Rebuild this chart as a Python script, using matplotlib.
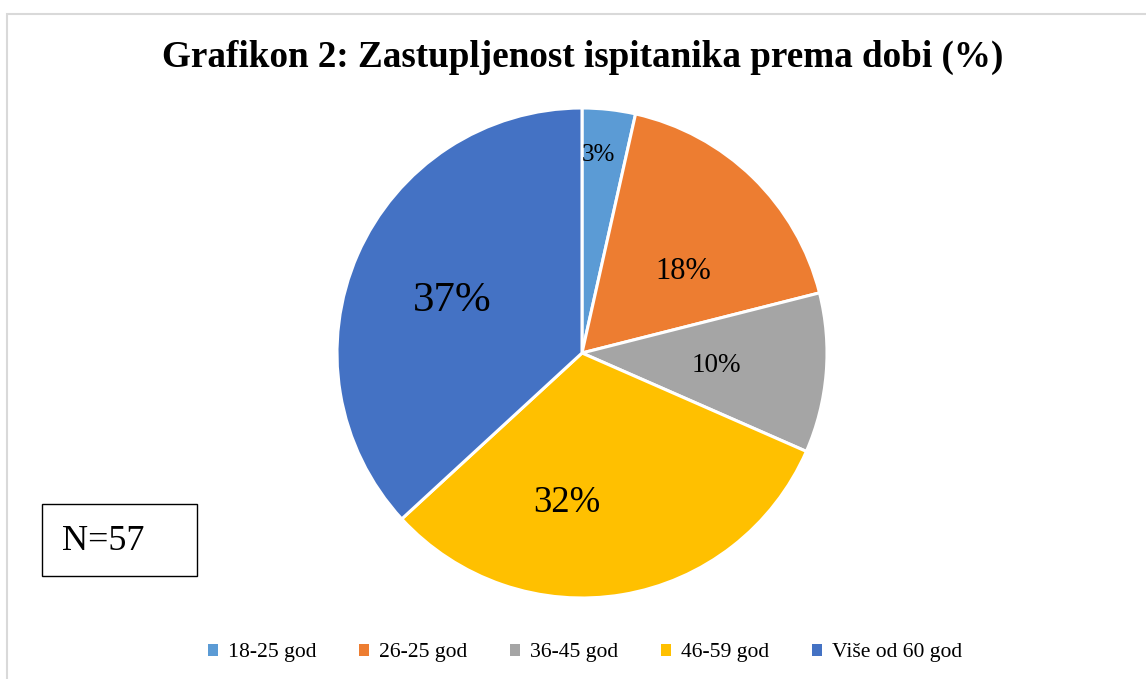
import matplotlib.pyplot as plt
from matplotlib.patches import Patch, Rectangle
import numpy as np

plt.rcParams['font.family'] = ['Liberation Serif', 'DejaVu Serif']

# age groups, number of respondents (N=57)
groups = ["18-25 god", "26-25 god", "36-45 god", "46-59 god", "Više od 60 god"]
counts = [2, 10, 6, 18, 21]
pct_labels = ["3%", "18%", "10%", "32%", "37%"]
colors = ["#5B9BD5", "#ED7D31", "#A5A5A5", "#FFC000", "#4472C4"]

# label placement (radius fraction, angle nudge in degrees) and font size, per slice
label_r = [0.82, 0.54, 0.55, 0.60, 0.58]
label_da = [1.7, -5.8, 0.9, -15.4, 0]
label_fs = [18, 22, 19.5, 26.5, 31]

W, H = 1146, 679
fig = plt.figure(figsize=(W / 100, H / 100), dpi=100)

# outer light-gray frame (left and top edges visible)
fig.patches.append(Rectangle((7 / W, -0.1), 1.2, 1 - 14 / H + 0.1,
                             transform=fig.transFigure, fill=False,
                             edgecolor="#D9D9D9", linewidth=1.5))

cx, cy, R = 582, 353, 245
ax = fig.add_axes([(cx - R) / W, (H - cy - R) / H, 2 * R / W, 2 * R / H])
wedges, _ = ax.pie(counts, colors=colors, startangle=90, counterclock=False,
                   wedgeprops=dict(edgecolor="white", linewidth=2.2))
ax.set_xlim(-1, 1)
ax.set_ylim(-1, 1)
ax.set_aspect("equal")

for w, lab, r, da, fs in zip(wedges, pct_labels, label_r, label_da, label_fs):
    mid = np.deg2rad((w.theta1 + w.theta2) / 2 + da)
    ax.text(r * np.cos(mid), r * np.sin(mid), lab, ha="center", va="center_baseline",
            fontsize=fs, color="black")

fig.text(583 / W, 1 - 57 / H, "Grafikon 2: Zastupljenost ispitanika prema dobi (%)",
         ha="center", va="center", fontsize=26.7, fontweight="bold")

# N box
fig.patches.append(Rectangle((42 / W, 1 - 576 / H), 155 / W, 72 / H,
                             transform=fig.transFigure, fill=False,
                             edgecolor="black", linewidth=1))
fig.text(62 / W, 1 - 537 / H, "N=57", ha="left", va="center_baseline", fontsize=26)

handles = [Patch(facecolor=c, edgecolor="none") for c in colors]
fig.legend(handles, groups, loc="center", bbox_to_anchor=(585 / W, 1 - 653 / H),
           ncol=5, frameon=False, fontsize=15.6, handlelength=0.45, handleheight=0.45,
           handletextpad=0.45, columnspacing=2.0)

fig.savefig("out.png", dpi=100)
